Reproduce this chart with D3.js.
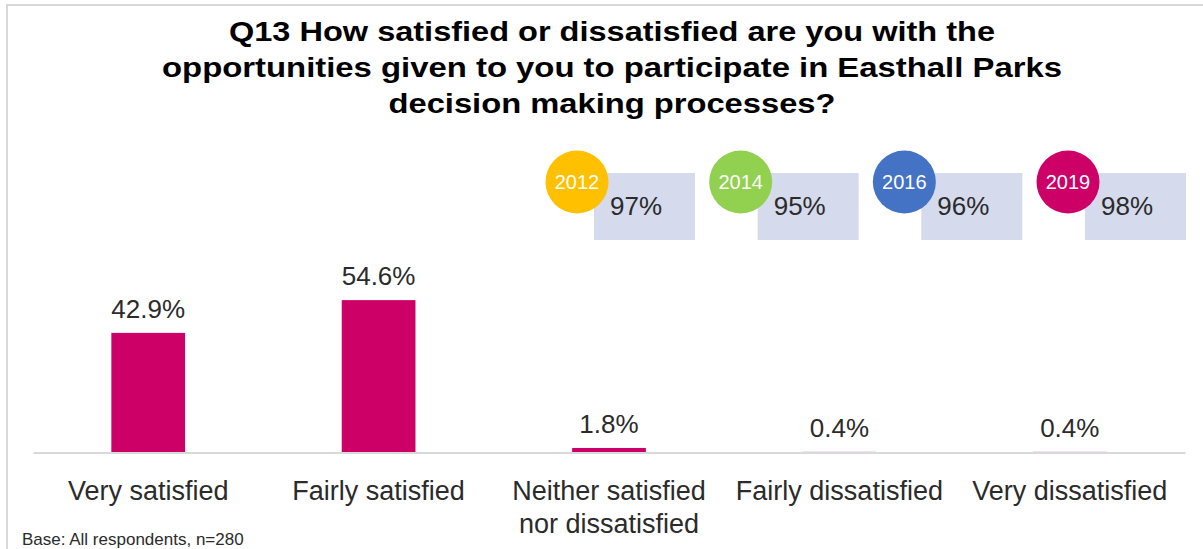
<!DOCTYPE html>
<html>
<head>
<meta charset="utf-8">
<script src="https://cdn.jsdelivr.net/npm/d3@7"></script>
<style>
  html, body { margin: 0; padding: 0; background: #fff; }
  svg { display: block; font-family: "Liberation Sans", Arial, sans-serif; }
</style>
</head>
<body>
<svg id="chart" width="1203" height="549"></svg>
<script>
// Survey responses (% of respondents)
const categories = ["Very satisfied", "Fairly satisfied", "Neither satisfied\nnor dissatisfied", "Fairly dissatisfied", "Very dissatisfied"];
const values = [42.9, 54.6, 1.8, 0.4, 0.4];

// Overall satisfaction by survey year
const years = ["2012", "2014", "2016", "2019"];
const yearScores = [97, 95, 96, 98];
const yearColors = ["#FFC000", "#92D050", "#4472C4", "#CC0066"];

const titleLines = [
  "Q13 How satisfied or dissatisfied are you with the",
  "opportunities given to you to participate in Easthall Parks",
  "decision making processes?"
];
const baseNote = "Base: All respondents, n=280";

const svg = d3.select("#chart");
const barColor = "#CC0066";
const textColor = "#2b2b2b";

// frame
svg.append("rect")
  .attr("x", 7).attr("y", 5)
  .attr("width", 1220).attr("height", 560)
  .attr("fill", "none").attr("stroke", "#d9d9d9").attr("stroke-width", 2);

// title
const titleWidths = [766, 900, 447];
svg.append("g").selectAll("text").data(titleLines).join("text")
  .attr("x", 612)
  .attr("y", (d, i) => 41 + i * 36)
  .attr("text-anchor", "middle")
  .attr("font-size", 28)
  .attr("font-weight", "bold")
  .attr("fill", "#000")
  .attr("textLength", (d, i) => titleWidths[i])
  .attr("lengthAdjust", "spacingAndGlyphs")
  .text(d => d);

// scales
const x = d3.scaleBand().domain(categories).range([33, 1185]).paddingInner(0.68).paddingOuter(0.34);
const y = d3.scaleLinear().domain([0, 100]).range([453, 173]);

// bars
svg.append("g").selectAll("rect").data(values).join("rect")
  .attr("x", (d, i) => x(categories[i]))
  .attr("width", x.bandwidth())
  .attr("y", d => y(d))
  .attr("height", d => y(0) - y(d))
  .attr("fill", barColor);

// baseline axis
const axis = svg.append("g").attr("transform", `translate(0,${y(0) - 0.5})`)
  .call(d3.axisBottom(x).tickSize(0).tickFormat(""));
axis.select(".domain").attr("stroke", "#d9d9d9").attr("stroke-width", 2);

// value labels
svg.append("g").selectAll("text").data(values).join("text")
  .attr("x", (d, i) => x(categories[i]) + x.bandwidth() / 2)
  .attr("y", d => y(d) - 15)
  .attr("text-anchor", "middle")
  .attr("font-size", 26)
  .attr("fill", textColor)
  .text(d => d.toFixed(1) + "%");

// category labels
const catG = svg.append("g");
categories.forEach((c, i) => {
  const t = catG.append("text")
    .attr("x", x(c) + x.bandwidth() / 2)
    .attr("y", 500)
    .attr("text-anchor", "middle")
    .attr("font-size", 27)
    .attr("fill", textColor);
  c.split("\n").forEach((line, j) => {
    t.append("tspan").attr("x", x(c) + x.bandwidth() / 2).attr("dy", j === 0 ? 0 : 33).text(line);
  });
});

// year badges
const badgeX = d3.scalePoint().domain(years).range([577, 1068]);
const badges = svg.append("g").selectAll("g").data(years).join("g")
  .attr("transform", d => `translate(${badgeX(d)},182)`);
badges.append("rect")
  .attr("x", 17).attr("y", -9)
  .attr("width", 101).attr("height", 67)
  .attr("fill", "#D5DAEC");
badges.append("circle")
  .attr("r", 31.5)
  .attr("fill", (d, i) => yearColors[i]);
badges.append("text")
  .attr("x", 0).attr("y", 7)
  .attr("text-anchor", "middle")
  .attr("font-size", 20)
  .attr("fill", "#fff")
  .text(d => d);
badges.append("text")
  .attr("x", 33).attr("y", 33)
  .attr("font-size", 26)
  .attr("fill", textColor)
  .text((d, i) => yearScores[i] + "%");

// base note
svg.append("text")
  .attr("x", 22).attr("y", 545)
  .attr("font-size", 17)
  .attr("fill", textColor)
  .text(baseNote);
</script>
</body>
</html>
